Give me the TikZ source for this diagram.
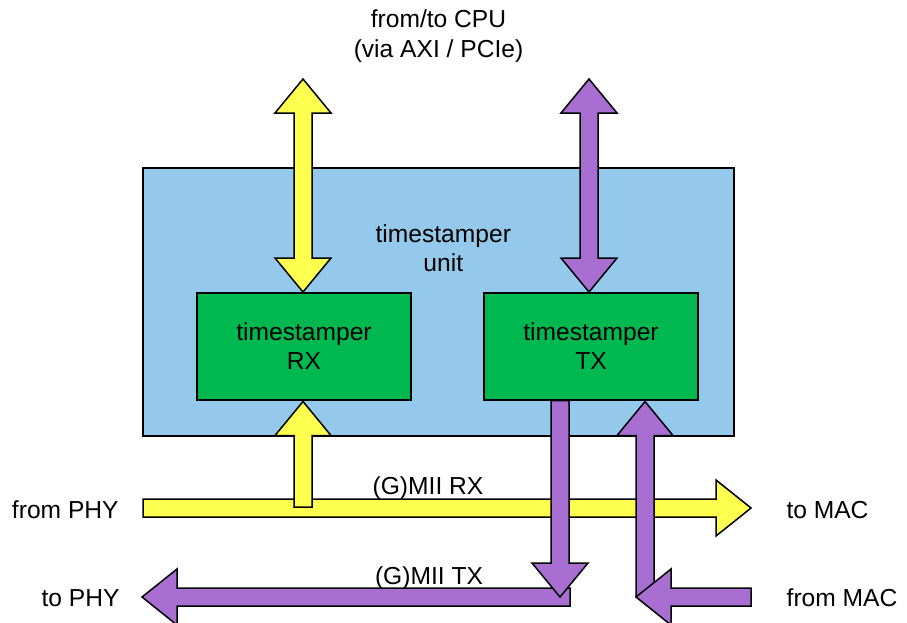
\documentclass[tikz,border=0pt]{standalone}
\usepackage{fontspec}
\setmainfont{Liberation Sans}
\definecolor{unitblue}{HTML}{95C9EB}
\definecolor{boxgreen}{HTML}{00B850}
\definecolor{ylw}{HTML}{FFFF50}
\definecolor{prp}{HTML}{A86ED2}
% block-arrow helpers: #1 colour
\newcommand\blkvdouble[4]{% colour, x, top tip y, bottom tip y
  \filldraw[blk,fill=#1] (#2,#3) -- (#2+28,#3+34) -- (#2+9,#3+34) -- (#2+9,#4-34) -- (#2+28,#4-34)
    -- (#2,#4) -- (#2-28,#4-34) -- (#2-9,#4-34) -- (#2-9,#3+34) -- (#2-28,#3+34) -- cycle;}
\newcommand\blkup[4]{% colour, x, tip y, tail y
  \filldraw[blk,fill=#1] (#2,#3) -- (#2+28,#3+34) -- (#2+9,#3+34) -- (#2+9,#4) -- (#2-9,#4)
    -- (#2-9,#3+34) -- (#2-28,#3+34) -- cycle;}
\newcommand\blkdown[4]{% colour, x, tail y, tip y
  \filldraw[blk,fill=#1] (#2-9,#3) -- (#2+9,#3) -- (#2+9,#4-34) -- (#2+28,#4-34) -- (#2,#4)
    -- (#2-28,#4-34) -- (#2-9,#4-34) -- cycle;}
\newcommand\blkright[4]{% colour, y, tail x, tip x
  \filldraw[blk,fill=#1] (#3,#2-9) -- (#4-35,#2-9) -- (#4-35,#2-28) -- (#4,#2) -- (#4-35,#2+28)
    -- (#4-35,#2+9) -- (#3,#2+9) -- cycle;}
\newcommand\blkleft[4]{% colour, y, tail x, tip x
  \filldraw[blk,fill=#1] (#3,#2-9) -- (#4+35,#2-9) -- (#4+35,#2-28) -- (#4,#2) -- (#4+35,#2+28)
    -- (#4+35,#2+9) -- (#3,#2+9) -- cycle;}
\begin{document}
\begin{tikzpicture}[x=1pt,y=-1pt,line width=1.5pt,
  blk/.style={draw=black,line width=1.5pt,line join=miter},
  lbl/.style={font=\fontsize{24.6}{29}\selectfont,inner sep=0pt,anchor=base,text=black},
  unitbox/.style={draw=black,fill=unitblue,line width=1.5pt,minimum width=591pt,minimum height=268pt,inner sep=0pt},
  tsbox/.style={draw=black,fill=boxgreen,line width=1.5pt,minimum width=214pt,minimum height=107pt,
    inner sep=0pt,align=center,font=\fontsize{24.6}{29}\selectfont}]
\useasboundingbox (0,0) rectangle (907,622);
\fill[white] (0,0) rectangle (907,622);

\node[unitbox] (unit) at (438.5,302) {};
\node[tsbox] (rx) at (304,346.5) {timestamper\\RX};
\node[tsbox] (tx) at (591,346.5) {timestamper\\TX};

% CPU side
\blkvdouble{ylw}{303}{79}{292}
\blkvdouble{prp}{589}{79}{292}

% RX path
\blkright{ylw}{508}{143}{751}
\blkup{ylw}{303}{401.5}{507}

% TX path
\blkleft{prp}{597}{570}{142}
\blkdown{prp}{560}{400.5}{597}
\blkup{prp}{645}{401.5}{597}
\blkleft{prp}{597}{751}{636}

% labels
\node[lbl] (cpu1) at (438.5,27) {from/to CPU};
\node[lbl] (cpu2) at (438.5,57) {(via AXI / PCIe)};
\node[lbl] (unit1) at (443.3,242.5) {timestamper};
\node[lbl] (unit2) at (443.3,271.7) {unit};
\node[lbl] (gmiirx) at (428,494) {(G)MII RX};
\node[lbl] (gmiitx) at (429,584) {(G)MII TX};
\node[lbl] (fromphy) at (65.3,518) {from PHY};
\node[lbl] (tomac) at (827.5,518) {to MAC};
\node[lbl] (tophy) at (80.5,606) {to PHY};
\node[lbl] (frommac) at (842,606) {from MAC};
\end{tikzpicture}
\end{document}
